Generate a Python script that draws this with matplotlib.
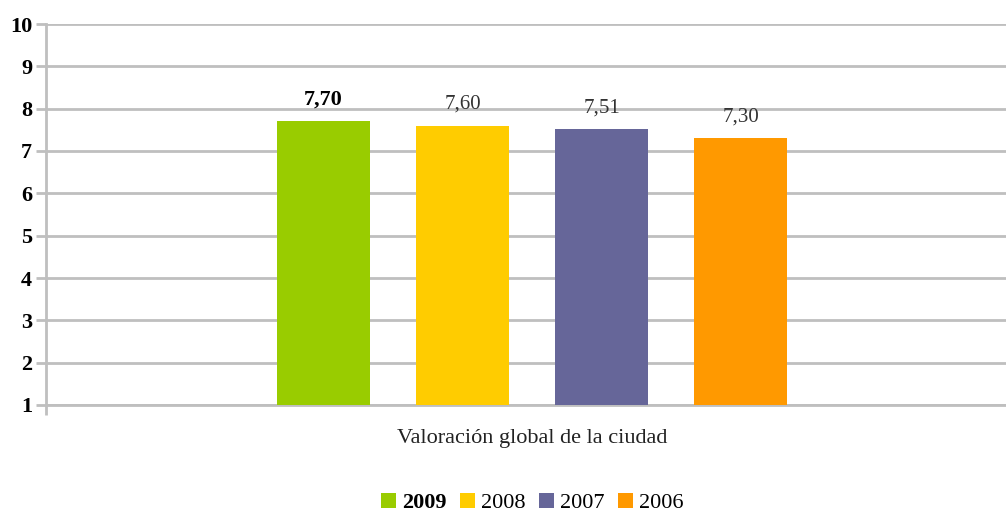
import matplotlib
matplotlib.use("Agg")
import matplotlib.pyplot as plt
from matplotlib.patches import Patch

plt.rcParams['font.family'] = ['Liberation Serif', 'DejaVu Serif']

category = "Valoración global de la ciudad"
years = ["2009", "2008", "2007", "2006"]
values = [7.70, 7.60, 7.51, 7.30]
labels = ["7,70", "7,60", "7,51", "7,30"]
colors = ["#99CC00", "#FFCC00", "#666699", "#FF9900"]
yticks = [1, 2, 3, 4, 5, 6, 7, 8, 9, 10]

W, H = 1006, 513
fig = plt.figure(figsize=(W / 100, H / 100), dpi=100)
ax = fig.add_axes([46 / W, 1 - 405 / H, 966 / W, (405 - 24) / H])

grid_c = "#BFBFBF"
bar_w = 0.0963
offsets = [-0.2127, -0.0688, 0.0751, 0.2190]
for i, (v, c) in enumerate(zip(values, colors)):
    ax.bar(offsets[i], v - 1, bottom=1, width=bar_w, color=c, zorder=3)
    ax.text(offsets[i], v + 0.28, labels[i], ha='center', va='bottom',
            fontsize=16 if i == 0 else 15, fontweight='bold' if i == 0 else 'normal',
            color='black' if i == 0 else '#333333')

ax.set_xlim(-0.5, 0.5)
ax.set_ylim(1, 10)
ax.set_yticks(yticks)
ax.set_yticklabels([str(t) for t in yticks], fontsize=16, fontweight='bold')
ax.yaxis.grid(True, color=grid_c, linewidth=2, zorder=0)
ax.set_axisbelow(True)
ax.tick_params(axis='y', length=7, width=2, color=grid_c, pad=3)
ax.set_xticks([-0.5, 0.5])
ax.set_xticklabels(["", ""])
ax.tick_params(axis='x', length=7, width=2, color=grid_c)
for s in ['top', 'right']:
    ax.spines[s].set_visible(False)
ax.spines['left'].set_color(grid_c)
ax.spines['left'].set_linewidth(2)
ax.spines['bottom'].set_color(grid_c)
ax.spines['bottom'].set_linewidth(2)

fig.text(532 / W, 1 - 438 / H, category, ha='center', va='center', fontsize=16, color='#222222')

handles = [Patch(facecolor=c, edgecolor='none') for c in colors]
leg = fig.legend(handles, years, loc='center', bbox_to_anchor=(532 / W, 1 - 503 / H),
                 ncol=4, frameon=False, fontsize=16, handlelength=0.7, handleheight=0.7,
                 handletextpad=0.25, columnspacing=0.6)
leg.get_texts()[0].set_fontweight('bold')

fig.savefig("out.png", dpi=100)
